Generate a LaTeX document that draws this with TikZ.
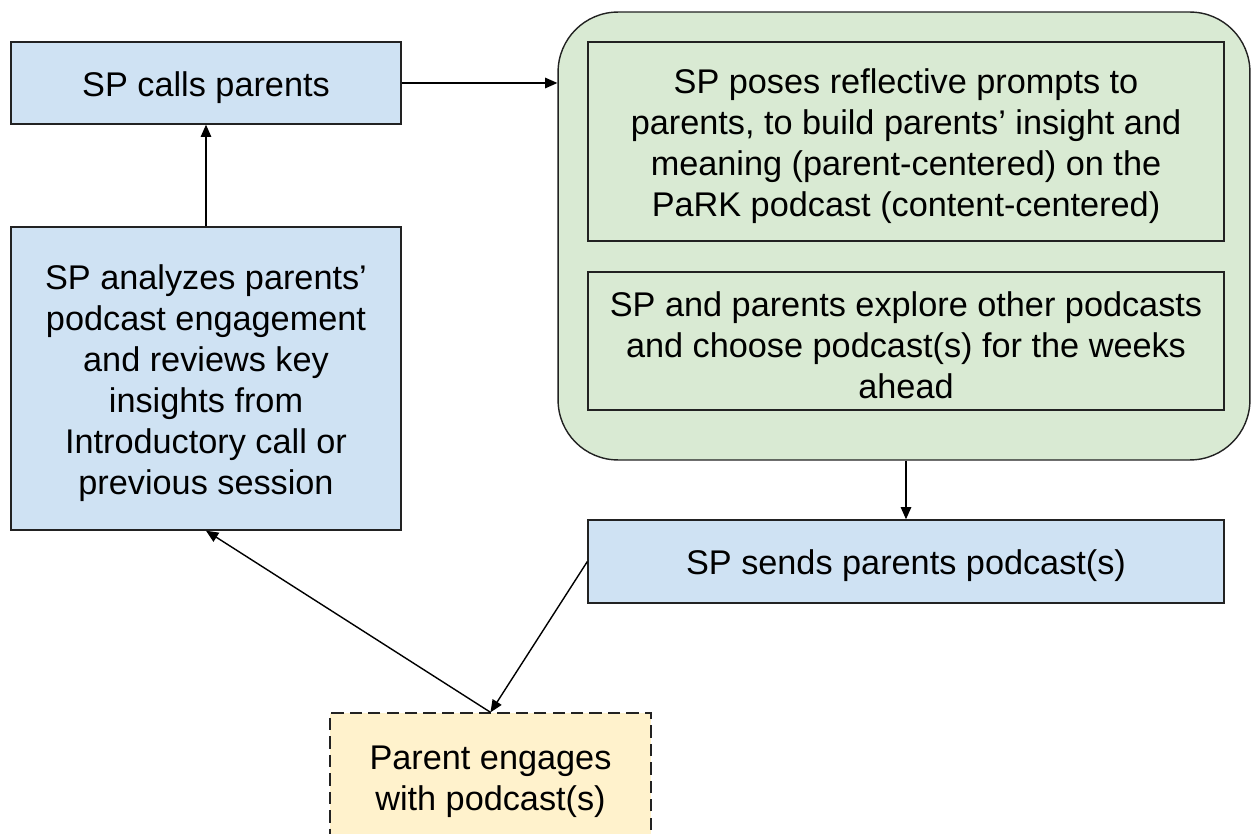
\documentclass[tikz,border=0pt]{standalone}
\usepackage{fontspec}
\setmainfont{Liberation Sans}
\usetikzlibrary{arrows.meta}
\definecolor{boxblue}{HTML}{CFE2F3}
\definecolor{boxgreen}{HTML}{D9EAD3}
\definecolor{boxyellow}{HTML}{FFF2CC}
\definecolor{edge}{HTML}{222222}
\tikzset{
  base/.style={draw=edge, line width=0.8pt, inner sep=0pt},
  txt/.style={align=center, inner sep=0pt, yshift=-0.09cm,
    font=\fontsize{19.5}{23.4}\selectfont, text=black},
  bluebox/.style={base, fill=boxblue},
  innerbox/.style={base, fill=boxgreen},
  conn/.style={draw=black, line width=0.8pt, -{Triangle[length=7pt,width=6pt]}}
}
\begin{document}
\begin{tikzpicture}[x=0.02cm, y=-0.02cm]
\useasboundingbox (0,0) rectangle (1251,834);
\fill[white] (0,0) rectangle (1251,834);
% green container
\node[draw=edge, line width=0.8pt, fill=boxgreen, rounded corners=1.2cm,
  minimum width=13.84cm, minimum height=8.96cm, inner sep=0pt] (green) at (904,236) {};
\node[innerbox, minimum width=12.72cm, minimum height=3.98cm] (prompts) at (906,141.5) {};
\node[txt] (promptsT) at (prompts.center)
  {SP poses reflective prompts to\\parents, to build parents’ insight and\\meaning (parent-centered) on the\\PaRK podcast (content-centered)};
\node[innerbox, minimum width=12.72cm, minimum height=2.76cm] (explore) at (906,341) {};
\node[txt] (exploreT) at (explore.center)
  {SP and parents explore other podcasts\\and choose podcast(s) for the weeks\\ahead};
\node[bluebox, minimum width=7.8cm, minimum height=1.64cm] (calls) at (206,83) {};
\node[txt] (callsT) at (calls.center) {SP calls parents};
\node[bluebox, minimum width=7.8cm, minimum height=6.06cm] (analyze) at (206,378.5) {};
\node[txt] (analyzeT) at (analyze.center)
  {SP analyzes parents’\\podcast engagement\\and reviews key\\insights from\\Introductory call or\\previous session};
\node[bluebox, minimum width=12.72cm, minimum height=1.66cm] (sends) at (906,561.5) {};
\node[txt] (sendsT) at (sends.center) {SP sends parents podcast(s)};
\node[base, fill=boxyellow, dashed, dash pattern=on 7pt off 3.5pt, minimum width=6.42cm, minimum height=2.56cm] (engage) at (490.5,777) {};
\node[txt] (engageT) at (engage.center) {Parent engages\\with podcast(s)};
\coordinate (gin) at (green.west |- calls.east);
\draw[conn] (calls.east) -- (gin);
\draw[conn] (analyze.north) -- (calls.south);
\draw[conn] (green.south -| sends.north) -- (sends.north);
\draw[conn] (sends.west) -- (engage.north);
\draw[conn] (engage.north) -- (analyze.south);
\end{tikzpicture}
\end{document}
